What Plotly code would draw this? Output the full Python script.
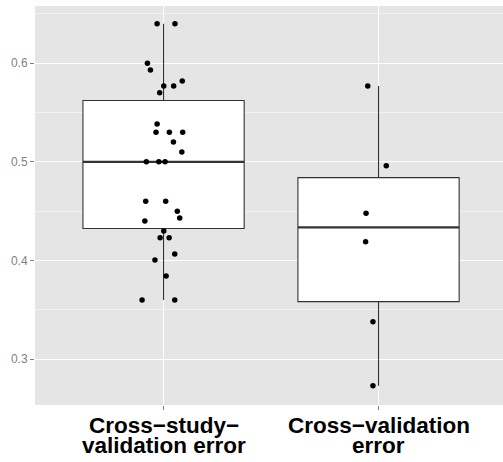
import numpy as np
import plotly.graph_objects as go

# ---- data ----
categories = [1, 2]
tick_labels = [["Cross\u2212study\u2212", "validation error"],
               ["Cross\u2212validation", "error"]]

cs_err = [0.640, 0.640, 0.600, 0.593, 0.577, 0.577, 0.582, 0.570, 0.5385, 0.530,
          0.530, 0.530, 0.520, 0.510, 0.500, 0.500, 0.500, 0.460, 0.460, 0.450,
          0.443, 0.440, 0.430, 0.423, 0.423, 0.4067, 0.4006, 0.3844, 0.360, 0.360]
cs_jit = [-0.030, 0.053, -0.075, -0.061, 0.001, 0.047, 0.087, -0.018, -0.030, -0.035,
          0.027, 0.089, 0.046, 0.085, -0.080, -0.022, 0.007, -0.083, 0.010, 0.064,
          0.075, -0.087, 0.001, -0.016, 0.026, 0.052, -0.040, 0.012, -0.100, 0.052]

cv_err = [0.577, 0.496, 0.448, 0.419, 0.338, 0.273]
cv_jit = [-0.050, 0.036, -0.058, -0.060, -0.026, -0.026]

series = [cs_err, cv_err]
jitters = [cs_jit, cv_jit]

y_ticks = [0.3, 0.4, 0.5, 0.6]
y_minor = [0.35, 0.45, 0.55, 0.65]

BOX_W = 0.75
fig = go.Figure()

for cat, vals in zip(categories, series):
    v = np.array(vals)
    q1, med, q3 = np.percentile(v, [25, 50, 75])
    iqr = q3 - q1
    lo = v[v >= q1 - 1.5 * iqr].min()
    hi = v[v <= q3 + 1.5 * iqr].max()
    fig.add_trace(go.Box(
        x=[cat], q1=[q1], median=[med], q3=[q3], lowerfence=[lo], upperfence=[hi],
        width=BOX_W, fillcolor="white", line=dict(color="#333333", width=1.1),
        whiskerwidth=0, boxpoints=False, showlegend=False, hoverinfo="skip"))
    # thicker median line like ggplot
    fig.add_trace(go.Scatter(
        x=[cat - BOX_W / 2, cat + BOX_W / 2], y=[med, med], mode="lines",
        line=dict(color="#333333", width=2.2), showlegend=False, hoverinfo="skip"))

for cat, vals, jit in zip(categories, series, jitters):
    fig.add_trace(go.Scatter(
        x=[cat + j for j in jit], y=vals, mode="markers",
        marker=dict(color="black", size=5.5, line=dict(width=0)),
        showlegend=False))

# x tick labels as annotations (tighter line spacing than <br>)
for cat, lines in zip(categories, tick_labels):
    for i, t in enumerate(lines):
        fig.add_annotation(
            x=cat, xref="x", y=0, yref="paper", yanchor="top",
            yshift=-6 - 20 * i, text=t, showarrow=False,
            font=dict(family="Liberation Sans, Arial, sans-serif", size=22.5,
                      color="black", weight="bold"))

fig.update_layout(
    width=503, height=462,
    margin=dict(l=35, r=0, t=6, b=57),
    paper_bgcolor="white", plot_bgcolor="#E5E5E5",
    font=dict(family="Liberation Sans, Arial, sans-serif"),
    xaxis=dict(range=[0.402, 2.579], tickvals=categories, ticktext=["", ""],
               showgrid=True, gridcolor="white", gridwidth=1.3, zeroline=False,
               ticks="outside", ticklen=4, tickcolor="#7F7F7F", tickwidth=1,
               showline=False),
    yaxis=dict(range=[0.2535, 0.658], tickvals=y_ticks,
               ticktext=[f"{t:.1f}" for t in y_ticks],
               showgrid=True, gridcolor="white", gridwidth=1.3, zeroline=False,
               ticks="outside", ticklen=4, tickcolor="#7F7F7F", tickwidth=1,
               tickfont=dict(size=12, color="#7F7F7F"), showline=False,
               minor=dict(tickvals=y_minor, showgrid=True, gridcolor="#F2F2F2",
                          gridwidth=1, ticks="")),
)

fig.write_html("out.html",
               config={"displayModeBar": False},
               post_script="document.body.style.margin='0';"
                           "document.body.style.overflow='hidden';")
